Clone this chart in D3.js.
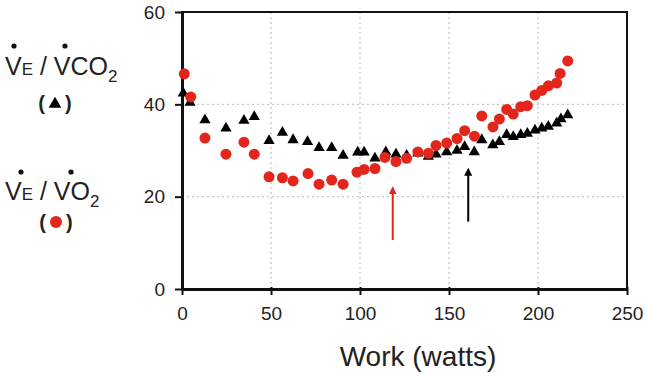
<!DOCTYPE html>
<html>
<head>
<meta charset="utf-8">
<script src="https://cdn.jsdelivr.net/npm/d3@7"></script>
<style>
  body { margin: 0; background: #fff; }
  svg text { font-family: "Liberation Sans", Arial, Helvetica, sans-serif; }
</style>
</head>
<body>
<svg id="chart" width="645" height="373"></svg>
<script>
// VE/VO2 (red circles)
var o2Work  = [1.3, 4.9, 12.9, 24.7, 34.8, 40.6, 48.9, 56.4, 62.4, 70.8, 77, 84.1, 90.5, 98.3, 102.3, 108.4, 114, 120.2, 126.2, 132.5, 138.4, 142.7, 148.7, 154.5, 158.8, 164.3, 168.4, 174.7, 178.3, 182.4, 186.1, 190.3, 194, 198.3, 202.1, 205.8, 210.5, 212.4, 216.7];
var o2Vals  = [46.6, 41.6, 32.7, 29.2, 31.8, 29.2, 24.3, 24.1, 23.4, 25.0, 22.7, 23.6, 22.7, 25.3, 25.9, 26.1, 28.5, 27.6, 28.3, 29.7, 29.4, 31.1, 31.6, 32.6, 34.3, 33.1, 37.5, 35.1, 36.8, 38.9, 37.9, 39.5, 39.7, 42.0, 43.0, 44.0, 44.6, 46.7, 49.4];

// VE/VCO2 (black triangles)
var co2Work = [0.7, 4.5, 12.9, 24.7, 34.8, 40.6, 48.9, 56.4, 62.4, 70.5, 77, 84.1, 90.5, 98.7, 102.3, 108.4, 114.5, 120.2, 126.2, 132.5, 138.4, 142.7, 148.7, 154.5, 158.8, 164.2, 168.4, 174.6, 178.3, 182.4, 186.1, 190.3, 194, 198.3, 202.1, 205.8, 210.5, 212.9, 216.7];
var co2Vals = [42.4, 40.4, 36.6, 34.8, 36.5, 37.3, 32.1, 33.9, 32.3, 31.9, 30.6, 30.6, 28.9, 29.6, 29.6, 28.3, 29.7, 29.2, 28.9, 29.4, 28.7, 29.2, 29.7, 30.0, 30.8, 29.7, 32.3, 31.2, 31.9, 33.4, 33.0, 33.4, 33.7, 34.4, 34.8, 35.2, 35.9, 36.8, 37.7];

// threshold arrows
var arrowWork  = [118.4, 160.8];
var arrowFrom  = [10.6, 14.6];
var arrowTo    = [21.4, 25.4];
var arrowColor = ["#e3261c", "#000"];

var xTicks = [0, 50, 100, 150, 200, 250];
var yTicks = [0, 20, 40, 60];

const svg = d3.select("#chart"),
      x = d3.scaleLinear().domain([0, 250]).range([182, 627]),
      y = d3.scaleLinear().domain([0, 60]).range([289, 12]);

// grid
svg.append("g").selectAll("line").data([50, 100, 150, 200]).enter().append("line")
  .attr("x1", d => x(d)).attr("x2", d => x(d)).attr("y1", y(60)).attr("y2", y(0))
  .attr("stroke", "#b8b8b8").attr("stroke-width", 1).attr("stroke-dasharray", "2,3");
svg.append("g").selectAll("line").data([20, 40]).enter().append("line")
  .attr("x1", x(0)).attr("x2", x(250)).attr("y1", d => y(d)).attr("y2", d => y(d))
  .attr("stroke", "#b8b8b8").attr("stroke-width", 1).attr("stroke-dasharray", "2,3");

// frame
svg.append("rect").attr("x", x(0)).attr("y", y(60)).attr("width", x(250) - x(0)).attr("height", y(0) - y(60))
  .attr("fill", "none").attr("stroke", "#111").attr("stroke-width", 2);

// axes
const xAxis = svg.append("g").attr("transform", `translate(0,${y(0)})`)
  .call(d3.axisBottom(x).tickValues(xTicks).tickSize(6).tickSizeOuter(0).tickPadding(12));
const yAxis = svg.append("g").attr("transform", `translate(${x(0)},0)`)
  .call(d3.axisLeft(y).tickValues(yTicks).tickSize(7).tickSizeOuter(0).tickPadding(10));
[xAxis, yAxis].forEach(a => {
  a.select(".domain").attr("stroke", "#111").attr("stroke-width", 3);
  a.selectAll(".tick line").attr("stroke", "#111").attr("stroke-width", 2);
  a.selectAll(".tick text").attr("font-family", "Liberation Sans, Arial, sans-serif")
    .attr("font-size", 19).attr("fill", "#222");
});
xAxis.selectAll(".tick line").attr("y1", -2);
yAxis.selectAll(".tick line").attr("x1", 2);

// axis title
svg.append("text").attr("x", 418).attr("y", 366).attr("text-anchor", "middle")
  .attr("font-size", 28).attr("fill", "#222").text("Work (watts)");

// triangles
svg.append("g").selectAll("path").data(co2Work).enter().append("path")
  .attr("transform", (d, i) => `translate(${x(d)},${y(co2Vals[i])})`)
  .attr("d", d3.symbol(d3.symbolTriangle).size(55))
  .attr("fill", "#000");

// circles
svg.append("g").selectAll("circle").data(o2Work).enter().append("circle")
  .attr("cx", d => x(d)).attr("cy", (d, i) => y(o2Vals[i])).attr("r", 5.5)
  .attr("fill", "#e3261c");

// arrows
const defs = svg.append("defs");
arrowColor.forEach((c, i) => {
  defs.append("marker").attr("id", "ah" + i).attr("viewBox", "0 0 10 10")
    .attr("refX", 5).attr("refY", 5).attr("markerWidth", 4).attr("markerHeight", 4)
    .attr("orient", "auto").attr("markerUnits", "strokeWidth")
    .append("path").attr("d", "M0,0 L10,5 L0,10 z").attr("fill", c);
});
svg.append("g").selectAll("line").data(arrowWork).enter().append("line")
  .attr("x1", d => x(d)).attr("x2", d => x(d))
  .attr("y1", (d, i) => y(arrowFrom[i])).attr("y2", (d, i) => y(arrowTo[i]))
  .attr("stroke", (d, i) => arrowColor[i]).attr("stroke-width", 2)
  .attr("marker-end", (d, i) => `url(#ah${i})`);

// left-side labels
function ratioLabel(ty, denom) {
  const t = svg.append("text").attr("x", 5).attr("y", ty).attr("fill", "#222").attr("font-size", 25);
  t.append("tspan").text("V");
  t.append("tspan").attr("font-size", 17).text("E");
  t.append("tspan").text(" / V" + denom);
  t.append("tspan").attr("font-size", 17).attr("dy", 7).text("2");
  return t;
}
ratioLabel(75, "CO");
ratioLabel(200, "O");
// dots above each V
[[14, 46], [65, 46], [21, 172], [71, 172]].forEach(p => {
  svg.append("circle").attr("cx", p[0]).attr("cy", p[1]).attr("r", 2.6).attr("fill", "#111");
});
// legend symbols in parentheses
svg.append("text").attr("x", 55).attr("y", 110).attr("text-anchor", "middle")
  .attr("font-size", 20).attr("font-weight", "bold").attr("fill", "#222").text("(\u2002\u2002)");
svg.append("path").attr("transform", "translate(55,104)")
  .attr("d", d3.symbol(d3.symbolTriangle).size(70)).attr("fill", "#000");
svg.append("text").attr("x", 56).attr("y", 229).attr("text-anchor", "middle")
  .attr("font-size", 20).attr("font-weight", "bold").attr("fill", "#222").text("(\u2002\u2002)");
svg.append("circle").attr("cx", 56).attr("cy", 222).attr("r", 6).attr("fill", "#e3261c");
</script>
</body>
</html>
